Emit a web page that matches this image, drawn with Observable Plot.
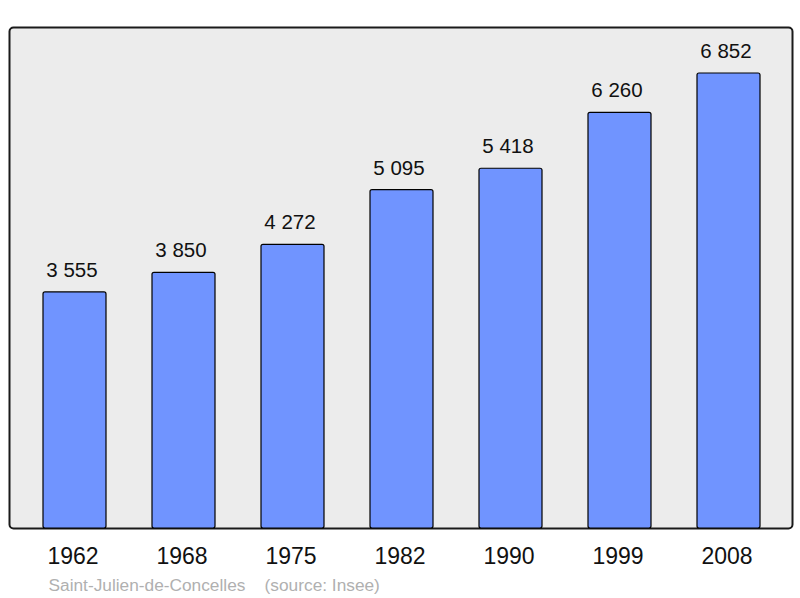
<!DOCTYPE html>
<html>
<head>
<meta charset="utf-8">
<script src="https://cdn.jsdelivr.net/npm/d3@7"></script>
<script src="https://cdn.jsdelivr.net/npm/@observablehq/plot@0.6"></script>
<style>
  html, body { margin: 0; padding: 0; background: #fff; }
  svg { display: block; }
</style>
</head>
<body>
<div id="chart"></div>
<script>
const years = ["1962", "1968", "1975", "1982", "1990", "1999", "2008"];
const population = [3555, 3850, 4272, 5095, 5418, 6260, 6852];
const captionText = "Saint-Julien-de-Concelles    (source: Insee)";

const data = years.map((y, i) => ({year: y, pop: population[i]}));
const fmt = v => d3.format(",")(v).replace(/,/g, " ");

const chart = Plot.plot({
  width: 800,
  height: 598,
  marginTop: 27,
  marginBottom: 70,
  marginLeft: 9,
  marginRight: 8,
  style: {fontFamily: "'Liberation Sans', Arial, sans-serif", background: "white"},
  x: {type: "band", domain: years, range: [41.5, 761], paddingInner: 0.424, paddingOuter: 0, axis: null, label: null},
  y: {domain: [0, 7545], axis: null},
  marks: [
    Plot.frame({fill: "#ececec", stroke: "#1a1a1a", strokeWidth: 2, rx: 4}),
    Plot.barY(data, {x: "year", y: "pop", fill: "#7094ff", stroke: "#000", strokeWidth: 1.2, rx: 2}),
    Plot.text(data, {x: "year", y: "pop", text: d => fmt(d.pop), dy: -22, dx: -3, fontSize: 20.5, fill: "#111"}),
    Plot.axisX({tickSize: 0, tickPadding: 19, dx: -2, fontSize: 23, fill: "#111", label: null}),
    Plot.text([captionText], {frameAnchor: "bottom-left", text: d => d, dx: 39, dy: 62, fontSize: 17.3, fill: "#b0b0b0", textAnchor: "start", style: {whiteSpace: "pre"}})
  ]
});
document.getElementById("chart").appendChild(chart);
</script>
</body>
</html>
